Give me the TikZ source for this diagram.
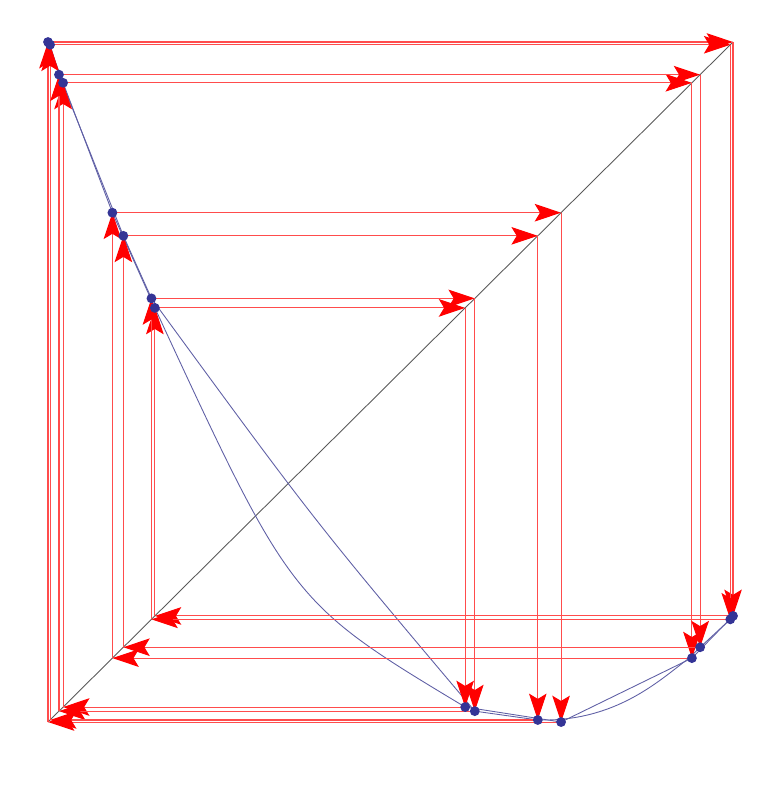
\documentclass[tikz,border=0pt]{standalone}
\usetikzlibrary{arrows.meta}

\definecolor{dotblue}{RGB}{52,52,150}
\definecolor{curveblue}{RGB}{95,95,165}

\begin{document}
\begin{tikzpicture}[
  x=13.7cm, y=13.6cm,
  cob/.style={draw=red!70, line width=0.6pt,
    -{Stealth[length=15pt, width=10pt, inset=3pt, color=red]}},
  graph/.style={draw=curveblue, line width=0.5pt},
  pt/.style={fill=dotblue},
]

% Frame of the page
\useasboundingbox (-0.0701, -0.0926) rectangle (1.0453, 1.0618);

% Orbit A: points (a_{k-1}, a_k) on the graph
\coordinate (A1) at (0,     1);
\coordinate (A2) at (1,     0.156);
\coordinate (A3) at (0.156, 0.609);
\coordinate (A4) at (0.609, 0.022);
\coordinate (A5) at (0.022, 0.940);
\coordinate (A6) at (0.940, 0.094);
\coordinate (A7) at (0.094, 0.749);
\coordinate (A8) at (0.749, 0);

% Orbit B: a start just beside A
\coordinate (B1) at (0.003, 0.996);
\coordinate (B2) at (0.996, 0.151);
\coordinate (B3) at (0.151, 0.623);
\coordinate (B4) at (0.623, 0.016);
\coordinate (B5) at (0.016, 0.952);
\coordinate (B6) at (0.952, 0.110);
\coordinate (B7) at (0.110, 0.715);
\coordinate (B8) at (0.715, 0.003);

% Diagonal y = x
\draw[black!65, line width=0.5pt] (0, 0) -- (1, 1);

% Graph through the orbit points
\draw[graph] (A1) -- (A5) -- (A7) -- (A3)
  .. controls (0.355, 0.176) .. (A4) -- (A8) -- (A6) -- (A2);
\draw[graph] (B1) -- (B5) -- (B7) -- (B3)
  .. controls (0.390, 0.294) .. (B4) -- (B8)
  .. controls (0.830, 0.000) and (0.893, 0.062) .. (0.936, 0.094) -- (B6) -- (B2);

% Cobweb of orbit A
\draw[cob] (A1 |- A8) -- (A1);
\draw[cob] (A1) -- (A2 |- A1);
\draw[cob] (A2 |- A1) -- (A2);
\draw[cob] (A2) -- (A3 |- A2);
\draw[cob] (A3 |- A2) -- (A3);
\draw[cob] (A3) -- (A4 |- A3);
\draw[cob] (A4 |- A3) -- (A4);
\draw[cob] (A4) -- (A5 |- A4);
\draw[cob] (A5 |- A4) -- (A5);
\draw[cob] (A5) -- (A6 |- A5);
\draw[cob] (A6 |- A5) -- (A6);
\draw[cob] (A6) -- (A7 |- A6);
\draw[cob] (A7 |- A6) -- (A7);
\draw[cob] (A7) -- (A8 |- A7);
\draw[cob] (A8 |- A7) -- (A8);
\draw[cob] (A8) -- (A1 |- A8);

% Cobweb of orbit B
\draw[cob] (B1 |- B8) -- (B1);
\draw[cob] (B1) -- (B2 |- B1);
\draw[cob] (B2 |- B1) -- (B2);
\draw[cob] (B2) -- (B3 |- B2);
\draw[cob] (B3 |- B2) -- (B3);
\draw[cob] (B3) -- (B4 |- B3);
\draw[cob] (B4 |- B3) -- (B4);
\draw[cob] (B4) -- (B5 |- B4);
\draw[cob] (B5 |- B4) -- (B5);
\draw[cob] (B5) -- (B6 |- B5);
\draw[cob] (B6 |- B5) -- (B6);
\draw[cob] (B6) -- (B7 |- B6);
\draw[cob] (B7 |- B6) -- (B7);
\draw[cob] (B7) -- (B8 |- B7);
\draw[cob] (B8 |- B7) -- (B8);
\draw[cob] (B8) -- (B1 |- B8);

% Orbit points
\fill[pt] (A1) circle (2.8pt);
\fill[pt] (A2) circle (2.8pt);
\fill[pt] (A3) circle (2.8pt);
\fill[pt] (A4) circle (2.8pt);
\fill[pt] (A5) circle (2.8pt);
\fill[pt] (A6) circle (2.8pt);
\fill[pt] (A7) circle (2.8pt);
\fill[pt] (A8) circle (2.8pt);

\fill[pt] (B1) circle (2.8pt);
\fill[pt] (B2) circle (2.8pt);
\fill[pt] (B3) circle (2.8pt);
\fill[pt] (B4) circle (2.8pt);
\fill[pt] (B5) circle (2.8pt);
\fill[pt] (B6) circle (2.8pt);
\fill[pt] (B7) circle (2.8pt);
\fill[pt] (B8) circle (2.8pt);

\end{tikzpicture}
\end{document}
